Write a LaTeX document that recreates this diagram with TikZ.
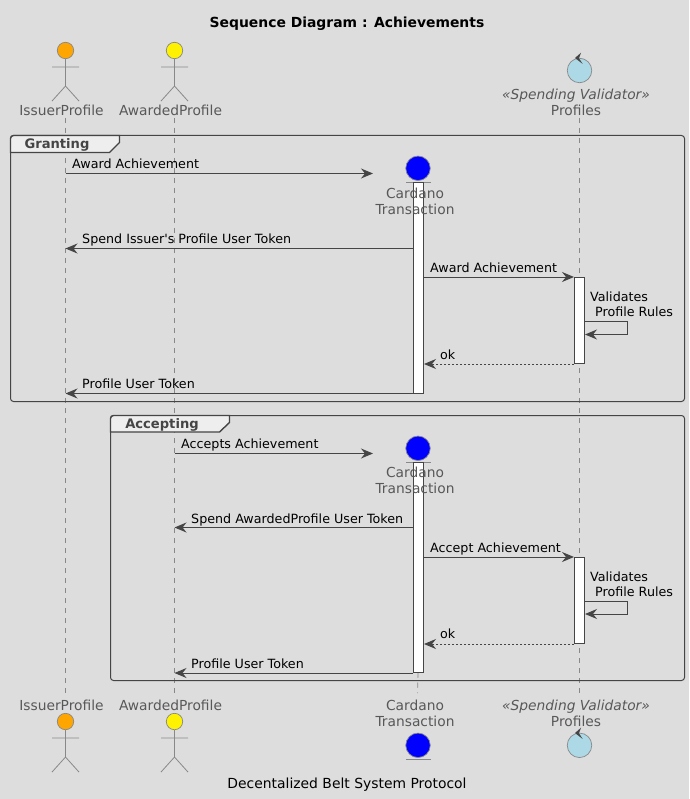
\documentclass[tikz,border=0pt]{standalone}
\usepackage{fontspec}
\setmainfont{DejaVu Sans}
\usetikzlibrary{arrows.meta,shapes.geometric}
\definecolor{pagebg}{HTML}{DDDDDD}
\definecolor{inkdark}{HTML}{454545}
\definecolor{inkgrey}{HTML}{888888}
\definecolor{tabfill}{HTML}{EEEEEE}
\definecolor{issuercol}{HTML}{FFA500}
\definecolor{validcol}{HTML}{ADD8E6}
\tikzset{
	msgtip/.style={-{Stealth[length=12pt,width=10pt,inset=4pt]}},
	msg/.style={inkdark,line width=1pt,msgtip},
	reply/.style={msg,dash pattern=on 2pt off 2pt},
	lifeline/.style={inkgrey,line width=.8pt,dash pattern=on 5pt off 5pt},
	actbar/.style={draw=inkdark,fill=white,line width=1pt,minimum width=10pt,inner sep=0pt},
	msgtext/.style={font=\fontsize{12.7}{14}\selectfont,text=black,inner sep=0pt,anchor=base west},
	headtext/.style={font=\fontsize{13.8}{16}\selectfont,text=inkdark!90,inner sep=0pt,align=center},
	grouptext/.style={font=\bfseries\fontsize{13.1}{14}\selectfont,text=inkdark,inner sep=0pt},
	bigtext/.style={fontsize=13.9,text=black,inner sep=0pt,anchor=base},
	fontsize/.style={font=\fontsize{#1}{16}\selectfont},
	groupbox/.style={draw=inkdark,line width=1pt,rounded corners=3pt},
	tabbox/.style={draw=inkdark,line width=1.4pt,fill=tabfill},
	headball/.style={circle,draw=inkgrey,line width=.7pt,minimum size=24.5pt,inner sep=0pt},
	baseline/.style={inkgrey,line width=.7pt}
}
% stick figure
\newcommand{\stickman}[3]{%
	\node[headball,minimum size=16.4pt,fill=#3] (#1) at #2 {};
	\draw[inkgrey,line width=.8pt] (#1.south) -- ++(0,27) ++(-13.5,-19) -- ++(27,0) ++(-13.5,19) -- ++(-13.5,15) ++(13.5,-15) -- ++(13.5,15);
}
\begin{document}
\begin{tikzpicture}[x=1pt,y=-1pt]
	\fill[pagebg] (0,0) rectangle (689,799);
	\node[bigtext,font=\bfseries\fontsize{13.9}{16}\selectfont] (title) at (347,28) {Sequence Diagram : Achievements};
	\node[bigtext] (caption) at (347,788) {Decentalized Belt System Protocol};
	% lifelines
	\coordinate (issuertop) at (65.5,118);
	\coordinate (issuerbot) at (65.5,693);
	\coordinate (awardedtop) at (174.5,118);
	\coordinate (awardedbot) at (174.5,693);
	\coordinate (cardanobot) at (417.5,693);
	\coordinate (validtop) at (579.5,118);
	\coordinate (validbot) at (579.5,693);
	\draw[lifeline] (issuertop) -- (issuerbot);
	\draw[lifeline] (awardedtop) -- (awardedbot);
	\draw[lifeline] (validtop) -- (validbot);
	% actors at top
	\stickman{issuerup}{(65.5,50.5)}{issuercol}
	\stickman{awardedup}{(174.5,50.5)}{yellow}
	\node[headtext] (issuerlab) at (61.5,110) {IssuerProfile};
	\node[headtext] (awardedlab) at (170.5,110) {AwardedProfile};
	\node[headball,fill=validcol] (validup) at (579.5,70.5) {};
	\fill[inkdark] (575,58) -- (581,52.7) -- (579,58.3) -- (582.7,64) -- cycle;
	\node[headtext] (validlab) at (576,102) {{\itshape «Spending Validator»}\\Profiles};
	% actors at bottom
	\stickman{issuerdown}{(65.5,721.5)}{issuercol}
	\stickman{awardeddown}{(174.5,721.5)}{yellow}
	\node[headtext] (issuerlow) at (61.5,705) {IssuerProfile};
	\node[headtext] (awardedlow) at (170.5,705) {AwardedProfile};
	\node[headtext] (cardanolow) at (415,713) {Cardano\\Transaction};
	\node[headball,fill=blue] (cardanodown) at (418,745.3) {};
	\draw[baseline] (406,759) -- (430.7,759);
	\node[headtext] (validlow) at (576,713) {{\itshape «Spending Validator»}\\Profiles};
	\node[headball,fill=validcol] (validdown) at (579.5,745.3) {};
	\fill[inkdark] (575,733) -- (581,727.7) -- (579,733.3) -- (582.7,739) -- cycle;
	% groups
	\draw[groupbox] (10.5,135.5) rectangle (684.5,401.5);
	\draw[tabbox] (10.5,152.5) [rounded corners=3pt] -- (10.5,135.5) -- (40,135.5) [sharp corners] -- (119.5,135.5) -- (119.5,142.5) -- (109.5,152.5) -- cycle;
	\node[grouptext] (grantlab) at (57,145) {Granting};
	\draw[groupbox] (110.5,415.5) rectangle (684.5,680.5);
	\draw[tabbox] (110.5,432) [rounded corners=3pt] -- (110.5,415.5) -- (140,415.5) [sharp corners] -- (229.5,415.5) -- (229.5,422.5) -- (219.5,432) -- cycle;
	\node[grouptext] (acceptlab) at (162,424.5) {Accepting};
	% granting
	\node[headball,fill=blue] (cardanoa) at (418,168.3) {};
	\draw[baseline] (406,182.3) -- (430.7,182.3);
	\node[actbar,minimum height=210pt] (bara) at (418.5,288) {};
	\node[actbar,minimum height=86pt] (checka) at (579.5,320.5) {};
	\node[headtext] (cardanolaba) at (415,201) {Cardano\\Transaction};
	\coordinate (aonefrom) at (65.5,173.5);
	\coordinate (aoneto) at (373,173.5);
	\draw[msg] (aonefrom) -- (aoneto);
	\node[msgtext] (aonelab) at (72,169) {Award Achievement};
	\coordinate (atwofrom) at (bara.west |- 0,248.5);
	\coordinate (atwoto) at (65.5,248.5);
	\draw[msg] (atwofrom) -- (atwoto);
	\node[msgtext] (atwolab) at (82,243.3) {Spend Issuer\textquotesingle s Profile User Token};
	\coordinate (athreefrom) at (checka.north -| bara.east);
	\coordinate (athreeto) at (checka.north west);
	\draw[msg] (athreefrom) -- (athreeto);
	\node[msgtext] (athreelab) at (430,272.7) {Award Achievement};
	\node[msgtext] (aselflab) at (590,301.7) {Validates};
	\node[msgtext] (aruleslab) at (595,316.7) {Profile Rules};
	\coordinate (aselffrom) at (checka.east |- 0,321.5);
	\coordinate (aselfto) at (checka.east |- 0,334.5);
	\draw[msg] (aselffrom) -- ++(42,0) -- ++(0,13) -- (aselfto);
	\coordinate (aokfrom) at (checka.south west);
	\coordinate (aokto) at (checka.south -| bara.east);
	\draw[reply] (aokfrom) -- (aokto);
	\node[msgtext] (aoklab) at (440,359) {ok};
	\coordinate (alastfrom) at (bara.south west);
	\coordinate (alastto) at (bara.south -| issuertop);
	\draw[msg] (alastfrom) -- (alastto);
	\node[msgtext] (alastlab) at (82,388) {Profile User Token};
	% accepting
	\draw[lifeline] (418,672.5) -- (cardanobot);
	\node[headball,fill=blue] (cardanob) at (418,448.3) {};
	\draw[baseline] (406,462.3) -- (430.7,462.3);
	\node[actbar,minimum height=210pt] (barb) at (418.5,567.5) {};
	\node[actbar,minimum height=86pt] (checkb) at (579.5,600.5) {};
	\node[headtext] (cardanolabb) at (415,480.5) {Cardano\\Transaction};
	\coordinate (bonefrom) at (174.5,453.5);
	\coordinate (boneto) at (373,453.5);
	\draw[msg] (bonefrom) -- (boneto);
	\node[msgtext] (bonelab) at (181,448) {Accepts Achievement};
	\coordinate (btwofrom) at (barb.west |- 0,527.5);
	\coordinate (btwoto) at (174.5,527.5);
	\draw[msg] (btwofrom) -- (btwoto);
	\node[msgtext] (btwolab) at (191,523) {Spend AwardedProfile User Token};
	\coordinate (bthreefrom) at (checkb.north -| barb.east);
	\coordinate (bthreeto) at (checkb.north west);
	\draw[msg] (bthreefrom) -- (bthreeto);
	\node[msgtext] (bthreelab) at (430,552) {Accept Achievement};
	\node[msgtext] (bselflab) at (590,581) {Validates};
	\node[msgtext] (bruleslab) at (595,596) {Profile Rules};
	\coordinate (bselffrom) at (checkb.east |- 0,601);
	\coordinate (bselfto) at (checkb.east |- 0,614);
	\draw[msg] (bselffrom) -- ++(42,0) -- ++(0,13) -- (bselfto);
	\coordinate (bokfrom) at (checkb.south west);
	\coordinate (bokto) at (checkb.south -| barb.east);
	\draw[reply] (bokfrom) -- (bokto);
	\node[msgtext] (boklab) at (440,638) {ok};
	\coordinate (blastfrom) at (barb.south west);
	\coordinate (blastto) at (barb.south -| awardedtop);
	\draw[msg] (blastfrom) -- (blastto);
	\node[msgtext] (blastlab) at (191,668) {Profile User Token};
\end{tikzpicture}
\end{document}
